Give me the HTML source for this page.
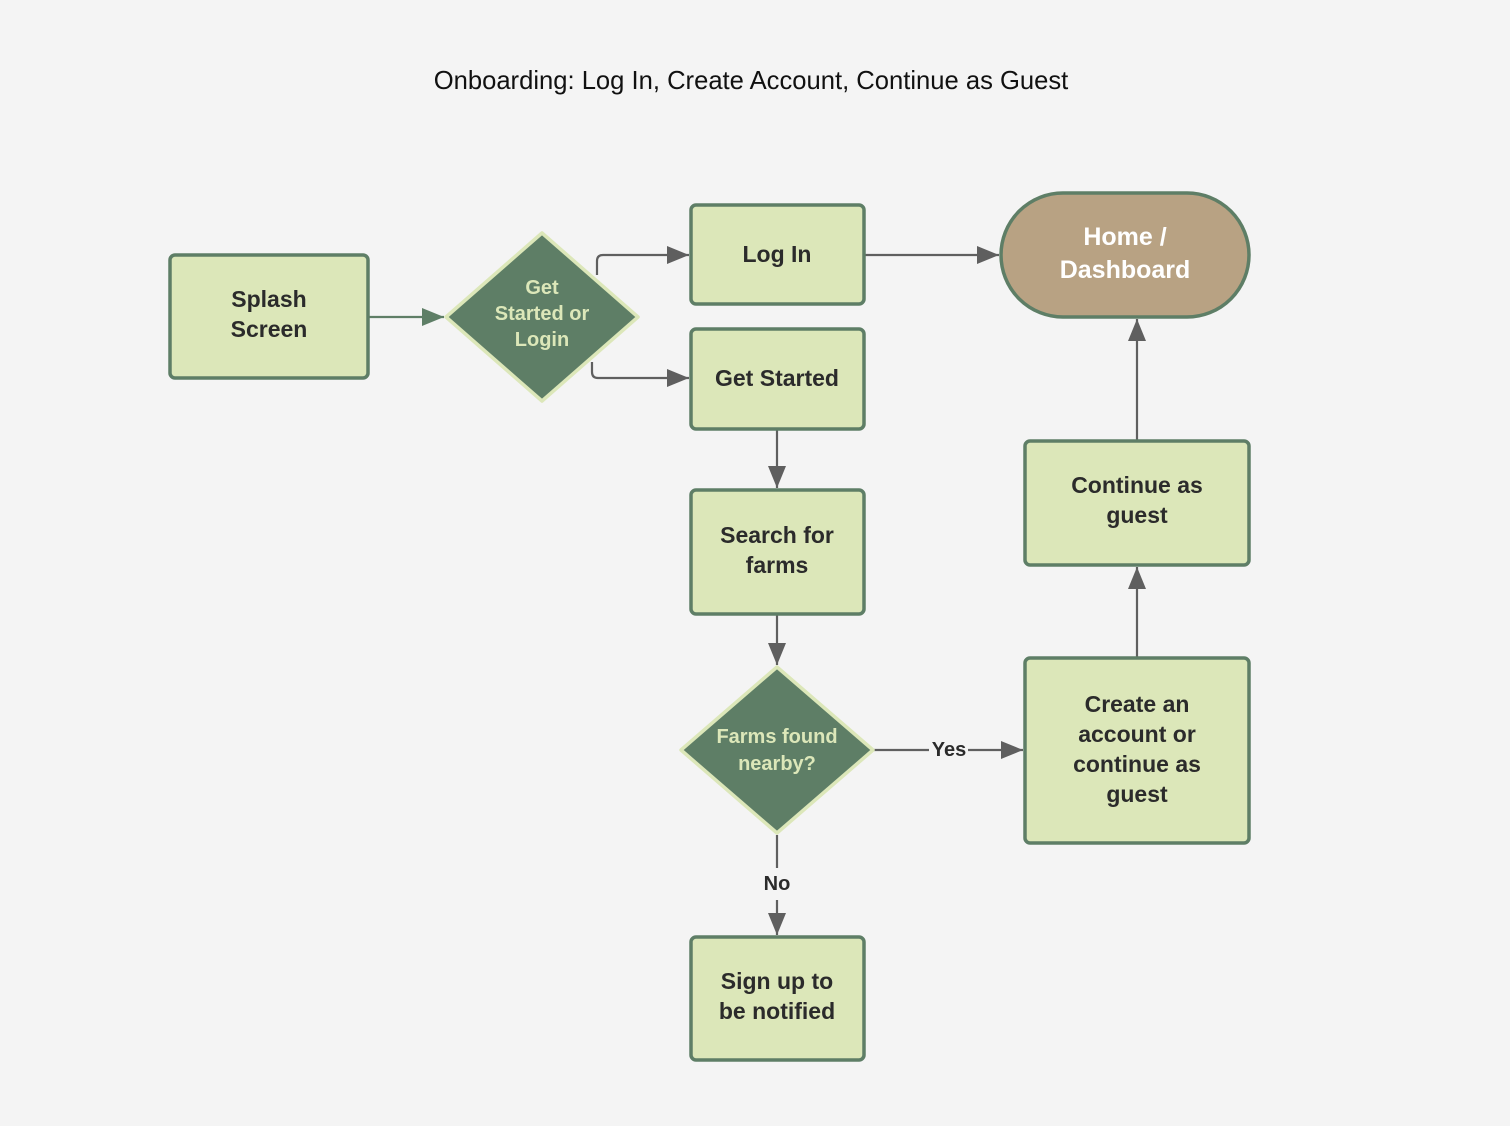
<!DOCTYPE html>
<html><head><meta charset="utf-8"><style>
html,body{margin:0;padding:0;background:#f4f4f4;}
svg{display:block;font-family:"Liberation Sans",Arial,sans-serif;}
.b{fill:#dce7b9;stroke:#5e7e66;stroke-width:3.5;}
.d{fill:#5e7e66;stroke:#dce7b9;stroke-width:3.5;stroke-linejoin:round;}
.t{font-weight:bold;font-size:23px;fill:#2b2b2b;text-anchor:middle;}
.dt{font-weight:bold;font-size:20px;fill:#dce7b9;text-anchor:middle;}
.l{stroke:#5f5f5f;stroke-width:2.2;fill:none;}
</style></head><body>
<svg width="1510" height="1126" viewBox="0 0 1510 1126">
<defs>
<marker id="a" markerWidth="24" markerHeight="18" refX="22" refY="9" orient="auto" markerUnits="userSpaceOnUse"><path d="M0,0 L22,9 L0,18 z" fill="#5f5f5f"/></marker>
<marker id="g" markerWidth="24" markerHeight="18" refX="22" refY="9" orient="auto" markerUnits="userSpaceOnUse"><path d="M0,0 L22,9 L0,18 z" fill="#5e7e66"/></marker>
</defs>
<rect width="1510" height="1126" fill="#f4f4f4"/>
<text x="751" y="89" text-anchor="middle" font-size="25.6" fill="#111">Onboarding: Log In, Create Account, Continue as Guest</text>

<path d="M368,317 H444" stroke="#5e7e66" stroke-width="2.2" fill="none" marker-end="url(#g)"/>
<path class="l" d="M597,275 V261 Q597,255 603,255 H689" marker-end="url(#a)"/>
<path class="l" d="M592,362 V372 Q592,378 598,378 H689" marker-end="url(#a)"/>
<path class="l" d="M864,255 H999" marker-end="url(#a)"/>
<path class="l" d="M777,429 V488" marker-end="url(#a)"/>
<path class="l" d="M777,614 V665" marker-end="url(#a)"/>
<path class="l" d="M873,750 H929 M968,750 H1023" marker-end="url(#a)"/>
<path class="l" d="M777,835 V868 M777,900 V935" marker-end="url(#a)"/>
<path class="l" d="M1137,658 V567" marker-end="url(#a)"/>
<path class="l" d="M1137,441 V319" marker-end="url(#a)"/>
<text x="949" y="756" class="t" style="font-size:20px">Yes</text>
<text x="777" y="890" class="t" style="font-size:20px">No</text>

<rect class="b" x="170" y="255" width="198" height="123" rx="5"/>
<text class="t" x="269" y="307">Splash</text><text class="t" x="269" y="337">Screen</text>

<rect class="b" x="691" y="205" width="173" height="99" rx="5"/>
<text class="t" x="777" y="262">Log In</text>

<rect class="b" x="691" y="329" width="173" height="100" rx="5"/>
<text class="t" x="777" y="386">Get Started</text>

<rect class="b" x="691" y="490" width="173" height="124" rx="5"/>
<text class="t" x="777" y="543">Search for</text><text class="t" x="777" y="573">farms</text>

<rect class="b" x="691" y="937" width="173" height="123" rx="5"/>
<text class="t" x="777" y="989">Sign up to</text><text class="t" x="777" y="1019">be notified</text>

<rect class="b" x="1025" y="441" width="224" height="124" rx="5"/>
<text class="t" x="1137" y="493">Continue as</text><text class="t" x="1137" y="523">guest</text>

<rect class="b" x="1025" y="658" width="224" height="185" rx="5"/>
<text class="t" x="1137" y="712">Create an</text><text class="t" x="1137" y="742">account or</text><text class="t" x="1137" y="772">continue as</text><text class="t" x="1137" y="802">guest</text>

<rect x="1001" y="193" width="248" height="124" rx="62" fill="#b8a283" stroke="#5e7e66" stroke-width="3.5"/>
<text x="1125" y="245" text-anchor="middle" font-weight="bold" font-size="25" fill="#fff">Home /</text>
<text x="1125" y="278" text-anchor="middle" font-weight="bold" font-size="25" fill="#fff">Dashboard</text>

<path class="d" d="M542,233 L638,317 L542,401 L446,317 Z"/>
<text class="dt" x="542" y="294">Get</text><text class="dt" x="542" y="320">Started or</text><text class="dt" x="542" y="346">Login</text>

<path class="d" d="M777,667 L873,750 L777,833 L681,750 Z"/>
<text class="dt" x="777" y="743">Farms found</text><text class="dt" x="777" y="770">nearby?</text>
</svg>
</body></html>
